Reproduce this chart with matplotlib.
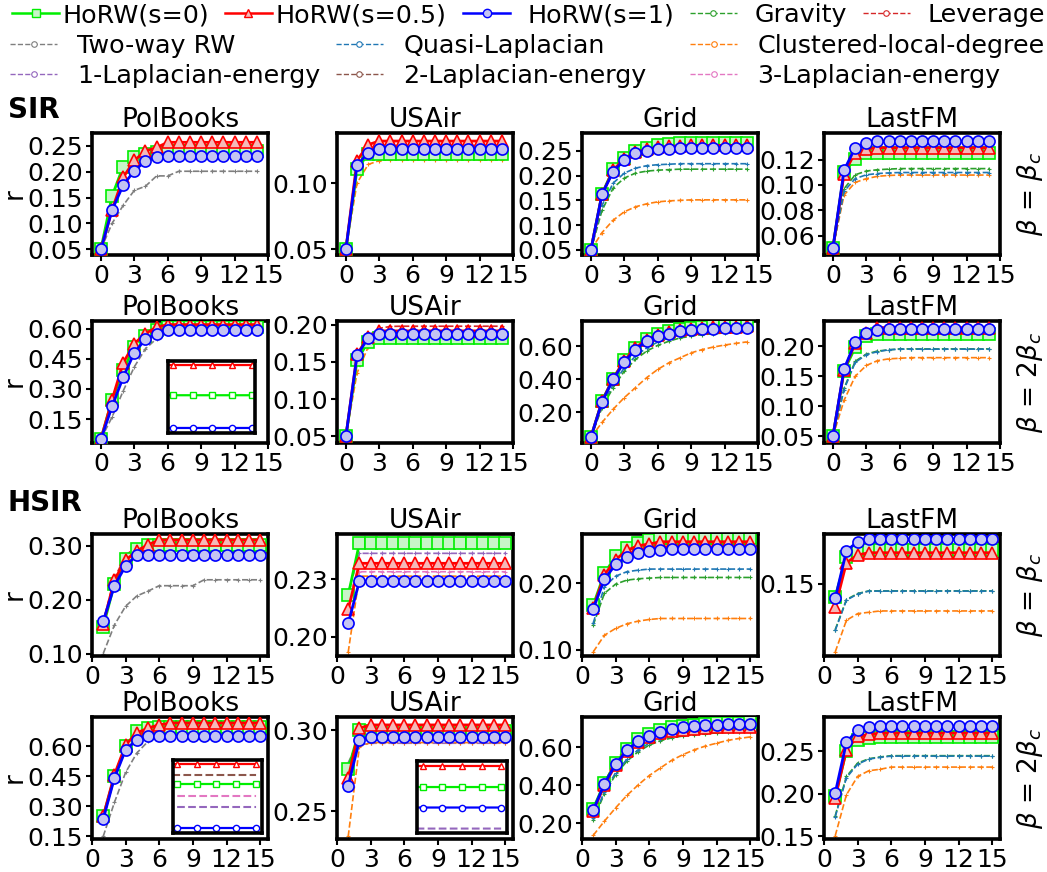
import matplotlib.pyplot as plt
from matplotlib.lines import Line2D
from matplotlib.ticker import FormatStrFormatter

# ---------------- data ----------------
steps_sir = [0, 1, 2, 3, 4, 5, 6, 7, 8, 9, 10, 11, 12, 13, 14]
steps_hsir = [1, 2, 3, 4, 5, 6, 7, 8, 9, 10, 11, 12, 13, 14, 15]
datasets = ["PolBooks", "USAir", "Grid", "LastFM"]
row_labels = [r"$\beta$ = $\beta_c$", r"$\beta$ = 2$\beta_c$", r"$\beta$ = $\beta_c$", r"$\beta$ = 2$\beta_c$"]
x_ticks = [0, 3, 6, 9, 12, 15]

# SIR, beta = beta_c
pb1_s0 = [0.050, 0.153, 0.210, 0.228, 0.235, 0.238, 0.240, 0.240, 0.240, 0.240, 0.240, 0.240, 0.240, 0.240, 0.240]
pb1_s05 = [0.050, 0.126, 0.189, 0.222, 0.240, 0.247, 0.257, 0.257, 0.257, 0.257, 0.257, 0.257, 0.257, 0.257, 0.257]
pb1_s1 = [0.050, 0.126, 0.174, 0.202, 0.221, 0.229, 0.230, 0.230, 0.230, 0.230, 0.230, 0.230, 0.230, 0.230, 0.230]
pb1_rw = [0.050, 0.100, 0.135, 0.164, 0.172, 0.192, 0.192, 0.201, 0.201, 0.201, 0.201, 0.201, 0.201, 0.201, 0.201]

ua1_s0 = [0.050, 0.1105, 0.1220, 0.1220, 0.1220, 0.1220, 0.1220, 0.1220, 0.1220, 0.1220, 0.1220, 0.1220, 0.1220, 0.1220, 0.1220]
ua1_s05 = [0.050, 0.1170, 0.1290, 0.1317, 0.1317, 0.1317, 0.1317, 0.1317, 0.1317, 0.1317, 0.1317, 0.1317, 0.1317, 0.1317, 0.1317]
ua1_s1 = [0.050, 0.1134, 0.1230, 0.1256, 0.1256, 0.1256, 0.1256, 0.1256, 0.1256, 0.1256, 0.1256, 0.1256, 0.1256, 0.1256, 0.1256]
ua1_cl = [0.050, 0.1000, 0.1140, 0.1170, 0.1176, 0.1176, 0.1176, 0.1176, 0.1176, 0.1176, 0.1176, 0.1176, 0.1176, 0.1176, 0.1176]

gr1_s0 = [0.050, 0.163, 0.213, 0.235, 0.250, 0.256, 0.261, 0.263, 0.265, 0.266, 0.266, 0.266, 0.266, 0.266, 0.266]
gr1_s05 = [0.050, 0.162, 0.211, 0.234, 0.247, 0.253, 0.257, 0.259, 0.260, 0.261, 0.261, 0.261, 0.261, 0.261, 0.261]
gr1_s1 = [0.050, 0.163, 0.208, 0.232, 0.245, 0.250, 0.253, 0.254, 0.255, 0.255, 0.255, 0.255, 0.255, 0.255, 0.255]
gr1_ql = [0.050, 0.140, 0.185, 0.205, 0.215, 0.220, 0.222, 0.223, 0.224, 0.224, 0.224, 0.224, 0.224, 0.224, 0.224]
gr1_gv = [0.050, 0.130, 0.175, 0.195, 0.205, 0.209, 0.211, 0.212, 0.213, 0.213, 0.213, 0.213, 0.213, 0.213, 0.213]
gr1_cl = [0.050, 0.085, 0.110, 0.127, 0.137, 0.143, 0.147, 0.149, 0.150, 0.151, 0.151, 0.151, 0.151, 0.151, 0.151]

lf1_s0 = [0.050, 0.1100, 0.1205, 0.1250, 0.1250, 0.1250, 0.1250, 0.1250, 0.1250, 0.1250, 0.1250, 0.1250, 0.1250, 0.1250, 0.1250]
lf1_s05 = [0.050, 0.1090, 0.1256, 0.1286, 0.1294, 0.1294, 0.1294, 0.1294, 0.1294, 0.1294, 0.1294, 0.1294, 0.1294, 0.1294, 0.1294]
lf1_s1 = [0.050, 0.1116, 0.1294, 0.1332, 0.1345, 0.1345, 0.1345, 0.1345, 0.1345, 0.1345, 0.1345, 0.1345, 0.1345, 0.1345, 0.1345]
lf1_gv = [0.050, 0.0970, 0.1080, 0.1110, 0.1120, 0.1125, 0.1129, 0.1129, 0.1129, 0.1129, 0.1129, 0.1129, 0.1129, 0.1129, 0.1129]
lf1_ql = [0.050, 0.0950, 0.1050, 0.1080, 0.1090, 0.1095, 0.1098, 0.1098, 0.1098, 0.1098, 0.1098, 0.1098, 0.1098, 0.1098, 0.1098]
lf1_cl = [0.050, 0.0920, 0.1020, 0.1050, 0.1068, 0.1075, 0.1078, 0.1078, 0.1078, 0.1078, 0.1078, 0.1078, 0.1078, 0.1078, 0.1078]

# SIR, beta = 2 beta_c
pb2_s0 = [0.050, 0.246, 0.394, 0.510, 0.562, 0.595, 0.608, 0.608, 0.608, 0.608, 0.608, 0.608, 0.608, 0.608, 0.608]
pb2_s05 = [0.050, 0.246, 0.430, 0.526, 0.575, 0.608, 0.620, 0.620, 0.620, 0.620, 0.620, 0.620, 0.620, 0.620, 0.620]
pb2_s1 = [0.050, 0.213, 0.358, 0.481, 0.547, 0.575, 0.595, 0.595, 0.595, 0.595, 0.595, 0.595, 0.595, 0.595, 0.595]
pb2_rw = [0.050, 0.160, 0.290, 0.410, 0.500, 0.550, 0.580, 0.595, 0.600, 0.600, 0.600, 0.600, 0.600, 0.600, 0.600]

ua2_s0 = [0.050, 0.152, 0.177, 0.1826, 0.1826, 0.1826, 0.1826, 0.1826, 0.1826, 0.1826, 0.1826, 0.1826, 0.1826, 0.1826, 0.1826]
ua2_s05 = [0.050, 0.160, 0.1835, 0.1915, 0.1915, 0.1915, 0.1915, 0.1915, 0.1915, 0.1915, 0.1915, 0.1915, 0.1915, 0.1915, 0.1915]
ua2_s1 = [0.050, 0.159, 0.182, 0.188, 0.188, 0.188, 0.188, 0.188, 0.188, 0.188, 0.188, 0.188, 0.188, 0.188, 0.188]
ua2_lv = [0.050, 0.155, 0.185, 0.195, 0.1975, 0.1978, 0.1978, 0.1978, 0.1978, 0.1978, 0.1978, 0.1978, 0.1978, 0.1978, 0.1978]
ua2_cl = [0.050, 0.135, 0.170, 0.180, 0.183, 0.183, 0.183, 0.183, 0.183, 0.183, 0.183, 0.183, 0.183, 0.183, 0.183]

gr2_s0 = [0.050, 0.270, 0.405, 0.515, 0.590, 0.645, 0.672, 0.690, 0.703, 0.710, 0.715, 0.720, 0.722, 0.724, 0.725]
gr2_s05 = [0.050, 0.268, 0.405, 0.512, 0.590, 0.640, 0.668, 0.685, 0.698, 0.705, 0.710, 0.714, 0.716, 0.718, 0.720]
gr2_s1 = [0.050, 0.266, 0.400, 0.506, 0.580, 0.632, 0.660, 0.676, 0.692, 0.700, 0.702, 0.706, 0.708, 0.710, 0.712]
gr2_ql = [0.050, 0.240, 0.370, 0.470, 0.540, 0.590, 0.625, 0.650, 0.665, 0.675, 0.682, 0.687, 0.690, 0.692, 0.693]
gr2_gv = [0.050, 0.230, 0.350, 0.450, 0.520, 0.570, 0.605, 0.630, 0.650, 0.660, 0.670, 0.675, 0.680, 0.683, 0.685]
gr2_cl = [0.050, 0.140, 0.220, 0.290, 0.350, 0.410, 0.460, 0.500, 0.530, 0.560, 0.580, 0.595, 0.607, 0.617, 0.626]

lf2_s0 = [0.050, 0.159, 0.198, 0.2165, 0.220, 0.220, 0.220, 0.220, 0.220, 0.220, 0.220, 0.220, 0.220, 0.220, 0.220]
lf2_s05 = [0.050, 0.160, 0.205, 0.222, 0.231, 0.231, 0.231, 0.231, 0.231, 0.231, 0.231, 0.231, 0.231, 0.231, 0.231]
lf2_s1 = [0.050, 0.162, 0.207, 0.2226, 0.2264, 0.228, 0.228, 0.228, 0.228, 0.228, 0.228, 0.228, 0.228, 0.228, 0.228]
lf2_gv = [0.050, 0.130, 0.175, 0.187, 0.192, 0.194, 0.1956, 0.1956, 0.1956, 0.1956, 0.1956, 0.1956, 0.1956, 0.1956, 0.1956]
lf2_ql = [0.050, 0.128, 0.173, 0.186, 0.191, 0.194, 0.1952, 0.1952, 0.1952, 0.1952, 0.1952, 0.1952, 0.1952, 0.1952, 0.1952]
lf2_cl = [0.050, 0.110, 0.150, 0.168, 0.176, 0.179, 0.180, 0.181, 0.181, 0.181, 0.181, 0.181, 0.181, 0.181, 0.181]

# HSIR, beta = beta_c
pb3_s0 = [0.150, 0.230, 0.275, 0.294, 0.302, 0.302, 0.302, 0.302, 0.302, 0.302, 0.302, 0.302, 0.302, 0.302, 0.302]
pb3_s05 = [0.155, 0.237, 0.273, 0.291, 0.302, 0.311, 0.311, 0.311, 0.311, 0.311, 0.311, 0.311, 0.311, 0.311, 0.311]
pb3_s1 = [0.160, 0.226, 0.263, 0.283, 0.283, 0.283, 0.283, 0.283, 0.283, 0.283, 0.283, 0.283, 0.283, 0.283, 0.283]
pb3_rw = [0.100, 0.153, 0.188, 0.207, 0.216, 0.226, 0.226, 0.226, 0.226, 0.237, 0.237, 0.237, 0.237, 0.237, 0.237]
pb3_lv = [0.158, 0.240, 0.282, 0.300, 0.310, 0.312, 0.312, 0.312, 0.312, 0.312, 0.312, 0.312, 0.312, 0.312, 0.312]

ua3_s0 = [0.2218, 0.2488, 0.2488, 0.2488, 0.2488, 0.2488, 0.2488, 0.2488, 0.2488, 0.2488, 0.2488, 0.2488, 0.2488, 0.2488, 0.2488]
ua3_s05 = [0.2143, 0.2384, 0.2384, 0.2384, 0.2384, 0.2384, 0.2384, 0.2384, 0.2384, 0.2384, 0.2384, 0.2384, 0.2384, 0.2384, 0.2384]
ua3_s1 = [0.2070, 0.2291, 0.2291, 0.2291, 0.2291, 0.2291, 0.2291, 0.2291, 0.2291, 0.2291, 0.2291, 0.2291, 0.2291, 0.2291, 0.2291]
ua3_l1 = [0.2230, 0.2436, 0.2436, 0.2436, 0.2436, 0.2436, 0.2436, 0.2436, 0.2436, 0.2436, 0.2436, 0.2436, 0.2436, 0.2436, 0.2436]
ua3_l3 = [0.2220, 0.2340, 0.2340, 0.2340, 0.2340, 0.2340, 0.2340, 0.2340, 0.2340, 0.2340, 0.2340, 0.2340, 0.2340, 0.2340, 0.2340]
ua3_cl = [0.1920, 0.2317, 0.2317, 0.2317, 0.2317, 0.2317, 0.2317, 0.2317, 0.2317, 0.2317, 0.2317, 0.2317, 0.2317, 0.2317, 0.2317]

gr3_s0 = [0.167, 0.215, 0.241, 0.253, 0.2606, 0.2657, 0.269, 0.269, 0.269, 0.269, 0.269, 0.269, 0.269, 0.269, 0.269]
gr3_s05 = [0.163, 0.213, 0.236, 0.250, 0.257, 0.2596, 0.263, 0.263, 0.263, 0.263, 0.263, 0.263, 0.263, 0.263, 0.263]
gr3_s1 = [0.162, 0.206, 0.229, 0.240, 0.246, 0.249, 0.2505, 0.2525, 0.2525, 0.2525, 0.2525, 0.2525, 0.2525, 0.2525, 0.2525]
gr3_ql = [0.140, 0.195, 0.211, 0.2177, 0.220, 0.2217, 0.2217, 0.2217, 0.2217, 0.2217, 0.2217, 0.2217, 0.2217, 0.2217, 0.2217]
gr3_gv = [0.137, 0.185, 0.199, 0.205, 0.207, 0.208, 0.209, 0.209, 0.209, 0.209, 0.209, 0.209, 0.209, 0.209, 0.209]
gr3_cl = [0.0965, 0.1217, 0.132, 0.139, 0.143, 0.1455, 0.147, 0.147, 0.147, 0.147, 0.147, 0.147, 0.147, 0.147, 0.147]

lf3_s0 = [0.1440, 0.1620, 0.1643, 0.1650, 0.1650, 0.1650, 0.1650, 0.1650, 0.1650, 0.1650, 0.1650, 0.1650, 0.1650, 0.1650, 0.1650]
lf3_s05 = [0.1395, 0.1593, 0.1628, 0.1638, 0.1638, 0.1638, 0.1638, 0.1638, 0.1638, 0.1638, 0.1638, 0.1638, 0.1638, 0.1638, 0.1638]
lf3_s1 = [0.1433, 0.1646, 0.1688, 0.1698, 0.1698, 0.1698, 0.1698, 0.1698, 0.1698, 0.1698, 0.1698, 0.1698, 0.1698, 0.1698, 0.1698]
lf3_gv = [0.1293, 0.1428, 0.1455, 0.1467, 0.1467, 0.1467, 0.1467, 0.1467, 0.1467, 0.1467, 0.1467, 0.1467, 0.1467, 0.1467, 0.1467]
lf3_ql = [0.1290, 0.1425, 0.1453, 0.1466, 0.1466, 0.1466, 0.1466, 0.1466, 0.1466, 0.1466, 0.1466, 0.1466, 0.1466, 0.1466, 0.1466]
lf3_cl = [0.1193, 0.1335, 0.1365, 0.1371, 0.1377, 0.1377, 0.1377, 0.1377, 0.1377, 0.1377, 0.1377, 0.1377, 0.1377, 0.1377, 0.1377]

# HSIR, beta = 2 beta_c
pb4_s0 = [0.250, 0.450, 0.600, 0.675, 0.690, 0.697, 0.697, 0.697, 0.697, 0.697, 0.697, 0.697, 0.697, 0.697, 0.697]
pb4_s05 = [0.250, 0.458, 0.608, 0.667, 0.692, 0.708, 0.717, 0.717, 0.717, 0.717, 0.717, 0.717, 0.717, 0.717, 0.717]
pb4_s1 = [0.237, 0.442, 0.583, 0.633, 0.650, 0.653, 0.653, 0.653, 0.653, 0.653, 0.653, 0.653, 0.653, 0.653, 0.653]
pb4_rw = [0.150, 0.320, 0.470, 0.567, 0.625, 0.650, 0.660, 0.665, 0.665, 0.665, 0.665, 0.665, 0.665, 0.665, 0.665]
pb4_l1 = [0.238, 0.440, 0.585, 0.645, 0.665, 0.672, 0.674, 0.674, 0.674, 0.674, 0.674, 0.674, 0.674, 0.674, 0.674]
pb4_l2 = [0.245, 0.450, 0.600, 0.665, 0.690, 0.702, 0.706, 0.706, 0.706, 0.706, 0.706, 0.706, 0.706, 0.706, 0.706]
pb4_l3 = [0.240, 0.445, 0.590, 0.655, 0.676, 0.683, 0.685, 0.685, 0.685, 0.685, 0.685, 0.685, 0.685, 0.685, 0.685]

ua4_s0 = [0.2760, 0.3004, 0.2996, 0.2996, 0.2996, 0.2996, 0.2996, 0.2996, 0.2996, 0.2996, 0.2996, 0.2996, 0.2996, 0.2996, 0.2996]
ua4_s05 = [0.2706, 0.3014, 0.3034, 0.3034, 0.3034, 0.3034, 0.3034, 0.3034, 0.3034, 0.3034, 0.3034, 0.3034, 0.3034, 0.3034, 0.3034]
ua4_s1 = [0.2658, 0.2942, 0.2959, 0.2959, 0.2959, 0.2959, 0.2959, 0.2959, 0.2959, 0.2959, 0.2959, 0.2959, 0.2959, 0.2959, 0.2959]
ua4_l1 = [0.2720, 0.2910, 0.2921, 0.2921, 0.2921, 0.2921, 0.2921, 0.2921, 0.2921, 0.2921, 0.2921, 0.2921, 0.2921, 0.2921, 0.2921]
ua4_cl = [0.2346, 0.2900, 0.2925, 0.2925, 0.2925, 0.2925, 0.2925, 0.2925, 0.2925, 0.2925, 0.2925, 0.2925, 0.2925, 0.2925, 0.2925]
ua4_rw = [0.2800, 0.2950, 0.2960, 0.2960, 0.2960, 0.2960, 0.2960, 0.2960, 0.2960, 0.2960, 0.2960, 0.2960, 0.2960, 0.2960, 0.2960]

gr4_s0 = [0.275, 0.410, 0.515, 0.590, 0.640, 0.670, 0.690, 0.705, 0.712, 0.718, 0.722, 0.725, 0.727, 0.729, 0.730]
gr4_s05 = [0.262, 0.400, 0.505, 0.578, 0.625, 0.655, 0.672, 0.685, 0.692, 0.697, 0.700, 0.703, 0.705, 0.707, 0.708]
gr4_s1 = [0.267, 0.407, 0.510, 0.582, 0.630, 0.660, 0.679, 0.695, 0.703, 0.709, 0.714, 0.718, 0.719, 0.721, 0.723]
gr4_lv = [0.265, 0.415, 0.525, 0.600, 0.650, 0.685, 0.700, 0.705, 0.708, 0.710, 0.710, 0.710, 0.710, 0.710, 0.710]
gr4_ql = [0.225, 0.365, 0.465, 0.535, 0.585, 0.620, 0.643, 0.658, 0.667, 0.674, 0.679, 0.682, 0.685, 0.687, 0.688]
gr4_gv = [0.215, 0.355, 0.455, 0.525, 0.575, 0.610, 0.633, 0.648, 0.658, 0.665, 0.670, 0.674, 0.677, 0.679, 0.680]
gr4_cl = [0.135, 0.210, 0.280, 0.345, 0.400, 0.450, 0.490, 0.530, 0.560, 0.585, 0.605, 0.620, 0.635, 0.645, 0.653]

lf4_s0 = [0.197, 0.251, 0.2637, 0.2657, 0.2669, 0.2669, 0.2669, 0.2669, 0.2669, 0.2669, 0.2669, 0.2669, 0.2669, 0.2669, 0.2669]
lf4_s05 = [0.195, 0.252, 0.2676, 0.270, 0.2716, 0.2716, 0.2716, 0.2716, 0.2716, 0.2716, 0.2716, 0.2716, 0.2716, 0.2716, 0.2716]
lf4_s1 = [0.201, 0.2606, 0.2755, 0.2786, 0.280, 0.280, 0.280, 0.280, 0.280, 0.280, 0.280, 0.280, 0.280, 0.280, 0.280]
lf4_gv = [0.1743, 0.2206, 0.2363, 0.2414, 0.2435, 0.245, 0.245, 0.245, 0.245, 0.245, 0.245, 0.245, 0.245, 0.245, 0.245]
lf4_ql = [0.1730, 0.2190, 0.2350, 0.2410, 0.2430, 0.2445, 0.2445, 0.2445, 0.2445, 0.2445, 0.2445, 0.2445, 0.2445, 0.2445, 0.2445]
lf4_cl = [0.1508, 0.1990, 0.2206, 0.2273, 0.2290, 0.2316, 0.2316, 0.2316, 0.2316, 0.2316, 0.2316, 0.2316, 0.2316, 0.2316, 0.2316]

# y ranges and ticks, one per panel (row-major)
ylims = [
    (0.039, 0.275), (0.0456, 0.1378), (0.0397, 0.286), (0.0447, 0.141),
    (0.031, 0.638), (0.041, 0.2048), (0.016, 0.752), (0.039, 0.242),
    (0.0955, 0.322), (0.190, 0.2537), (0.0903, 0.2747), (0.1175, 0.1722),
    (0.137, 0.747), (0.233, 0.3083), (0.116, 0.758), (0.147, 0.2905),
]
yticks = [
    [0.05, 0.10, 0.15, 0.20, 0.25], [0.05, 0.10], [0.05, 0.10, 0.15, 0.20, 0.25], [0.06, 0.08, 0.10, 0.12],
    [0.15, 0.30, 0.45, 0.60], [0.05, 0.10, 0.15, 0.20], [0.20, 0.40, 0.60], [0.05, 0.10, 0.15, 0.20],
    [0.10, 0.20, 0.30], [0.20, 0.23], [0.10, 0.20], [0.15],
    [0.15, 0.30, 0.45, 0.60], [0.25, 0.30], [0.20, 0.40, 0.60], [0.15, 0.20, 0.25],
]

# ---------------- styles ----------------
labels = {
    "s0": "HoRW(s=0)", "s05": "HoRW(s=0.5)", "s1": "HoRW(s=1)",
    "gv": "Gravity", "lv": "Leverage", "rw": "Two-way RW", "ql": "Quasi-Laplacian",
    "cl": "Clustered-local-degree", "l1": "1-Laplacian-energy", "l2": "2-Laplacian-energy",
    "l3": "3-Laplacian-energy",
}
horw_style = {
    "s0": ("#00ee00", "s", "#c8f5c8"),
    "s05": ("red", "^", "#f5b8b8"),
    "s1": ("blue", "o", "#c4c4f2"),
}
base_color = {
    "gv": "#2ca02c", "lv": "#d62728", "rw": "#7f7f7f", "ql": "#1f77b4",
    "cl": "#ff7f0e", "l1": "#9467bd", "l2": "#8c564b", "l3": "#e377c2",
}
base_order = ["rw", "l1", "l2", "l3", "lv", "cl", "gv", "ql"]
horw_order = ["s0", "s05", "s1"]

W, H = 1047, 872
fig = plt.figure(figsize=(W / 100, H / 100), dpi=100)


def box(l, t, w, h):
    return [l / W, 1 - (t + h) / H, w / W, h / H]


def draw(ax, x, curves, small=False):
    for k in base_order:
        if k in curves:
            if small:
                ax.plot(x, curves[k], color=base_color[k], ls="--", lw=1.5)
            else:
                ax.plot(x, curves[k], color=base_color[k], ls="--", lw=1.2,
                        marker="+", ms=3, mew=0.8, zorder=2)
    for k in horw_order:
        if k in curves:
            c, m, fc = horw_style[k]
            if small:
                ax.plot(x, curves[k], color=c, lw=1.6, marker=m, ms=4.5,
                        mfc="white", mec=c, mew=1)
            else:
                ax.plot(x, curves[k], color=c, lw=2, marker=m, ms=8,
                        mfc=fc, mec=c, mew=1.2, zorder=3)


def thick(ax):
    for sp in ax.spines.values():
        sp.set_linewidth(2.6)
        sp.set_color("black")


panels = [
    {"s0": pb1_s0, "s05": pb1_s05, "s1": pb1_s1, "rw": pb1_rw},
    {"s0": ua1_s0, "s05": ua1_s05, "s1": ua1_s1, "cl": ua1_cl},
    {"s0": gr1_s0, "s05": gr1_s05, "s1": gr1_s1, "ql": gr1_ql, "gv": gr1_gv, "cl": gr1_cl},
    {"s0": lf1_s0, "s05": lf1_s05, "s1": lf1_s1, "ql": lf1_ql, "gv": lf1_gv, "cl": lf1_cl},
    {"s0": pb2_s0, "s05": pb2_s05, "s1": pb2_s1, "rw": pb2_rw},
    {"s0": ua2_s0, "s05": ua2_s05, "s1": ua2_s1, "lv": ua2_lv, "cl": ua2_cl},
    {"s0": gr2_s0, "s05": gr2_s05, "s1": gr2_s1, "ql": gr2_ql, "gv": gr2_gv, "cl": gr2_cl},
    {"s0": lf2_s0, "s05": lf2_s05, "s1": lf2_s1, "ql": lf2_ql, "gv": lf2_gv, "cl": lf2_cl},
    {"s0": pb3_s0, "s05": pb3_s05, "s1": pb3_s1, "rw": pb3_rw, "lv": pb3_lv},
    {"s0": ua3_s0, "s05": ua3_s05, "s1": ua3_s1, "l1": ua3_l1, "l3": ua3_l3, "cl": ua3_cl},
    {"s0": gr3_s0, "s05": gr3_s05, "s1": gr3_s1, "ql": gr3_ql, "gv": gr3_gv, "cl": gr3_cl},
    {"s0": lf3_s0, "s05": lf3_s05, "s1": lf3_s1, "ql": lf3_ql, "gv": lf3_gv, "cl": lf3_cl},
    {"s0": pb4_s0, "s05": pb4_s05, "s1": pb4_s1, "rw": pb4_rw, "l1": pb4_l1, "l2": pb4_l2, "l3": pb4_l3},
    {"s0": ua4_s0, "s05": ua4_s05, "s1": ua4_s1, "l1": ua4_l1, "cl": ua4_cl, "rw": ua4_rw},
    {"s0": gr4_s0, "s05": gr4_s05, "s1": gr4_s1, "lv": gr4_lv, "ql": gr4_ql, "gv": gr4_gv, "cl": gr4_cl},
    {"s0": lf4_s0, "s05": lf4_s05, "s1": lf4_s1, "ql": lf4_ql, "gv": lf4_gv, "cl": lf4_cl},
]

col_left = [92, 337, 582, 824]
row_top = [133, 321, 534, 717]
aw, ah = 176, 122

for i, curves in enumerate(panels):
    r, c = divmod(i, 4)
    ax = fig.add_axes(box(col_left[c], row_top[r], aw, ah))
    x = steps_sir if r < 2 else steps_hsir
    draw(ax, x, curves)
    ax.set_xticks(x_ticks)
    ax.set_xlim((-0.8, 15) if r < 2 else (0, 15.7))
    ax.set_ylim(ylims[i])
    ax.set_yticks(yticks[i])
    ax.yaxis.set_major_formatter(FormatStrFormatter("%.2f"))
    ax.tick_params(labelsize=18, width=1.5, length=4, pad=2.5)
    ax.set_title(datasets[c], fontsize=19, pad=2.5)
    thick(ax)

# insets
insets = [
    ((168, 361, 87, 72), steps_sir, panels[4], ["s0", "s05", "s1"], (9.77, 14.13), (0.593, 0.6216)),
    ((173, 760, 89, 73), steps_hsir, panels[12], ["s0", "s05", "s1", "l1", "l2", "l3"], (10.81, 15.3), (0.648, 0.721)),
    ((417, 761, 90, 72), steps_hsir, panels[13], ["s0", "s05", "s1", "l1"], (10.7, 15.3), (0.2913, 0.3043)),
]
for rect, x, curves, keys, xl, yl in insets:
    ins = fig.add_axes(box(*rect))
    draw(ins, x, {k: curves[k] for k in keys}, small=True)
    ins.set_xlim(xl)
    ins.set_ylim(yl)
    ins.set_xticks([])
    ins.set_yticks([])
    thick(ins)

# row annotations
for r in range(4):
    yc = row_top[r] + ah / 2
    fig.text(15 / W, 1 - yc / H, "r", fontsize=19, rotation=90, ha="center", va="center")
    fig.text(1030 / W, 1 - yc / H, row_labels[r], fontsize=19, rotation=90, ha="center", va="center")
fig.text(8 / W, 1 - 118 / H, "SIR", fontsize=20, fontweight="bold", va="baseline")
fig.text(8 / W, 1 - 511 / H, "HSIR", fontsize=20, fontweight="bold", va="baseline")


# legends
def handle(k):
    if k in horw_style:
        c, m, fc = horw_style[k]
        return Line2D([], [], color=c, lw=1.8, marker=m, ms=6, mfc=fc, mec=c, mew=1)
    c = base_color[k]
    return Line2D([], [], color=c, lw=1, ls="--", marker="o", ms=4, mfc="white", mec=c, mew=0.8)


def legend(keys, x, y, ncol, pad):
    leg = fig.legend([handle(k) for k in keys], [labels[k] for k in keys],
                     loc="upper left", bbox_to_anchor=(x / W, 1 - y / H),
                     bbox_transform=fig.transFigure, ncol=ncol, frameon=False,
                     fontsize=18.3, handlelength=1.85, handletextpad=pad,
                     columnspacing=0.6, borderpad=0, borderaxespad=0,
                     labelspacing=0.22, numpoints=1)
    return leg


legend(["s0", "s05"], 12, 3, 2, 0.15)
legend(["s1", "gv", "lv"], 463, 3, 3, 0.7)
legend(["rw", "l1", "ql", "l2"], 10, 34, 2, 0.8)
legend(["cl", "l3"], 690, 34, 1, 0.8)

fig.savefig("out.png", dpi=100)
